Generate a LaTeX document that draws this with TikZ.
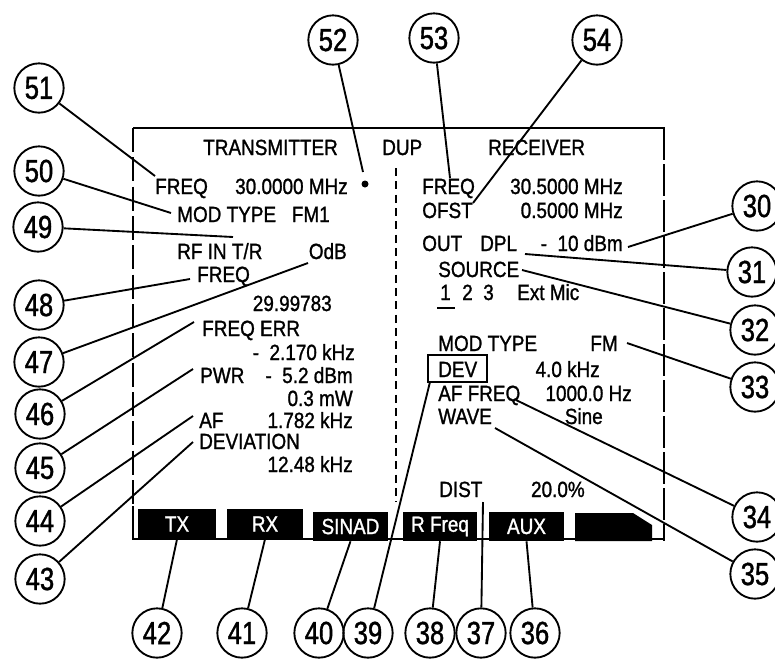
\documentclass[tikz,border=0pt]{standalone}
\usepackage{fontspec}
\setmainfont{Liberation Sans}[FakeStretch=0.86,FakeBold=1.2]
\newfontfamily\numfont{Liberation Sans}[FakeStretch=0.8,FakeBold=1.2]
\begin{document}
\begin{tikzpicture}[x=0.75pt,y=-0.75pt,
  lbl/.style={inner sep=0,font=\fontsize{16.5}{16.5}\selectfont,anchor=base west},
  val/.style={lbl,anchor=base east},
  callout/.style={circle,draw,line width=1.4pt,minimum size=37pt,inner sep=0,font=\numfont\fontsize{24}{24}\selectfont},
  leader/.style={line width=1.4pt},
  frameline/.style={line width=1.4pt},
  softkey/.style={fill=black,text=white,inner sep=0,font=\fontsize{16.5}{16.5}\selectfont,minimum height=22.5pt}]
\useasboundingbox (0,0) rectangle (775,658);

% frame
\draw[frameline] (133,128) -- (665,128);
\draw[frameline,dash pattern=on 18pt off 4pt] (133,128) -- (133,508);
\draw[frameline] (133,506) -- (133,539) -- (664,539);
\draw[frameline,dash pattern=on 24pt off 3pt] (664,128) -- (664,541);
\draw[line width=1.3pt,dash pattern=on 6pt off 4pt] (396,168) -- (396,502);

% left texts
\node[lbl] (ttx) at (203,155) {TRANSMITTER};
\node[lbl] (tfreq) at (155,194) {FREQ};
\node[val] (tfreqv) at (348,194) {30.0000 MHz};
\fill (365,184) circle (3.5);
\coordinate (dot) at (363,172);
\node[lbl] (tmod) at (177,222) {MOD TYPE};
\node[val] (tmodv) at (330,222) {FM1};
\node[lbl] (trfin) at (177,259) {RF IN T/R};
\node[val] (todb) at (347,259) {OdB};
\node[lbl] (tfreq2) at (197,282) {FREQ};
\node[val] (tfreq2v) at (332,311) {29.99783};
\node[lbl] (terr) at (202,336) {FREQ ERR};
\node[val] (terrv) at (355,360) {-\ \ 2.170 kHz};
\node[lbl] (tpwr) at (200,383) {PWR};
\node[val] (tpwrv) at (353,383) {-\ \ 5.2 dBm};
\node[val] (tmw) at (353,406) {0.3 mW};
\node[lbl] (taf) at (199,428) {AF};
\node[val] (tafv) at (353,428) {1.782 kHz};
\node[lbl] (tdev) at (199,449) {DEVIATION};
\node[val] (tdevv) at (353,472) {12.48 kHz};

% right texts
\node[lbl] (tdup) at (382,155) {DUP};
\node[lbl] (trx) at (488,155) {RECEIVER};
\node[lbl] (rfreq) at (422,194) {FREQ};
\node[val] (rfreqv) at (623,194) {30.5000 MHz};
\node[lbl] (rofst) at (422,218) {OFST};
\node[val] (rofstv) at (623,218) {0.5000 MHz};
\node[lbl] (rout) at (422,251) {OUT};
\node[lbl] (rdpl) at (480,251) {DPL};
\node[val] (routv) at (623,251) {-\ \ 10 dBm};
\node[lbl] (rsrc) at (438,277) {SOURCE};
\node[lbl] (rs1) at (440,300) {1};
\node[lbl] (rs2) at (462,300) {2};
\node[lbl] (rs3) at (483,300) {3};
\node[lbl] (rsext) at (517,300) {Ext Mic};
\draw[line width=1.2pt] (437,308) -- (455,308);
\node[lbl] (rmod) at (438,351) {MOD TYPE};
\node[val] (rmodv) at (618,351) {FM};
\node[draw,line width=1pt,minimum width=44.25pt,minimum height=20.25pt,inner sep=0] (devbox) at (457.5,368.5) {};
\node[lbl] (rdev) at (438,377) {DEV};
\node[val] (rdevv) at (600,377) {4.0 kHz};
\node[lbl] (raf) at (438,401) {AF FREQ};
\node[val] (rafv) at (632,401) {1000.0 Hz};
\node[lbl] (rwave) at (438,424) {WAVE};
\node[val] (rwavev) at (603,424) {Sine};
\node[lbl] (rdist) at (439,497) {DIST};
\node[val] (rdistv) at (585,497) {20.0\%};

% softkeys
\node[softkey,minimum width=58.5pt] (ktx) at (177,524) {TX};
\node[softkey,minimum width=57pt] (krx) at (265,524) {RX};
\node[softkey,minimum width=56.25pt,minimum height=21.75pt] (ksinad) at (350.5,526.5) {SINAD};
\node[softkey,minimum width=55.5pt,minimum height=21.75pt] (krfreq) at (440,526.5) {R Freq};
\node[softkey,minimum width=56.25pt,minimum height=21.75pt] (kaux) at (526.5,526.5) {AUX};
\fill (575,513) -- (633,513) -- (652,525) -- (652,541) -- (575,541) -- cycle;

% callouts
\node[callout] (c51) at (39,88) {51};
\node[callout] (c50) at (39,171) {50};
\node[callout] (c49) at (38,227) {49};
\node[callout] (c48) at (39,305) {48};
\node[callout] (c47) at (39,362) {47};
\node[callout] (c46) at (40,414) {46};
\node[callout] (c45) at (40,468) {45};
\node[callout] (c44) at (40,521) {44};
\node[callout] (c43) at (40,579) {43};
\node[callout] (c52) at (333,40) {52};
\node[callout] (c53) at (434,38) {53};
\node[callout] (c54) at (597,40) {54};
\node[callout] (c30) at (757,206) {30};
\node[callout] (c31) at (752,272) {31};
\node[callout] (c32) at (755,330) {32};
\node[callout] (c33) at (755,387) {33};
\node[callout] (c34) at (757,517) {34};
\node[callout] (c35) at (755,574) {35};
\node[callout] (c42) at (157,633) {42};
\node[callout] (c41) at (242,633) {41};
\node[callout] (c40) at (319,633) {40};
\node[callout] (c39) at (368,633) {39};
\node[callout] (c38) at (430,633) {38};
\node[callout] (c37) at (481,633) {37};
\node[callout] (c36) at (535,633) {36};

% leader end points
\coordinate (p51) at (155,176);
\coordinate (p50) at (171,213);
\coordinate (p49) at (233,237);
\coordinate (p48) at (190,279);
\coordinate (p47) at (308,263);
\coordinate (p46) at (194,322);
\coordinate (p45) at (193,369);
\coordinate (p44) at (193,416);
\coordinate (p43) at (193,442);
\coordinate (p53) at (450,178);
\coordinate (p54) at (473,203);
\coordinate (p30) at (628,247);
\coordinate (p31) at (525,254);
\coordinate (p32) at (522,270);
\coordinate (p33) at (627,343);
\coordinate (p34) at (516,400);
\coordinate (p35) at (495,428);
\coordinate (p39) at (430,382);
\coordinate (p37) at (483,502);

% leaders
\draw[leader] (c51) -- (p51);
\draw[leader] (c50) -- (p50);
\draw[leader] (c49) -- (p49);
\draw[leader] (c48) -- (p48);
\draw[leader] (c47) -- (p47);
\draw[leader] (c46) -- (p46);
\draw[leader] (c45) -- (p45);
\draw[leader] (c44) -- (p44);
\draw[leader] (c43) -- (p43);
\draw[leader] (c52) -- (dot);
\draw[leader] (c53) -- (p53);
\draw[leader] (c54) -- (p54);
\draw[leader] (c30) -- (p30);
\draw[leader] (c31) -- (p31);
\draw[leader] (c32) -- (p32);
\draw[leader] (c33) -- (p33);
\draw[leader] (c34) -- (p34);
\draw[leader] (c35) -- (p35);
\draw[leader] (c39) -- (p39);
\draw[leader] (c42) -- (ktx.south);
\draw[leader] (c41) -- (krx.south);
\draw[leader] (c40) -- (ksinad.south);
\draw[leader] (c38) -- (krfreq.south);
\draw[leader] (c37) -- (p37);
\draw[leader] (c36) -- (kaux.south);
\end{tikzpicture}
\end{document}
